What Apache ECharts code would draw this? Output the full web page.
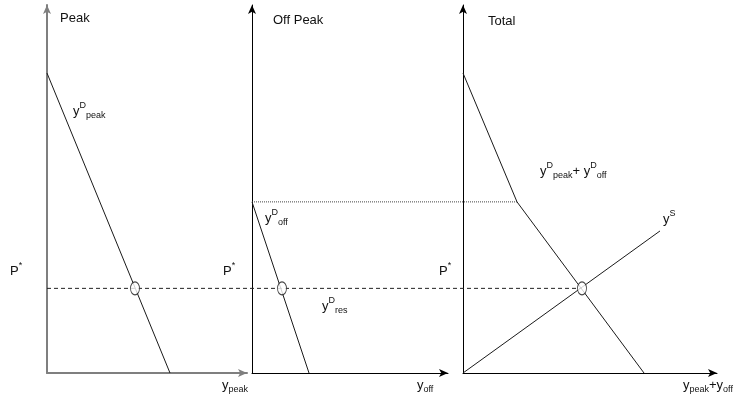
<!DOCTYPE html>
<html>
<head>
<meta charset="utf-8">
<script src="https://cdn.jsdelivr.net/npm/echarts@6/dist/echarts.min.js"></script>
<style>
html,body{margin:0;padding:0;background:#fff;}
#chart{width:734px;height:399px;}
</style>
</head>
<body>
<div id="chart"></div>
<script>
// values (quantity units / price units)
const peakDemand = [[0, 81.5], [61.5, 0]];
const offDemand = [[0, 46.5], [28.5, 0]];
const totalDemand = [[0, 81.5], [27, 46.5], [90.5, 0]];
const supply = [[0, 0], [98.5, 38.6]];
const pStar = 23;
const pKink = 46.5;
const eqPeak = [44, pStar];
const eqOff = [15, pStar];
const eqTotal = [59.5, pStar];
const xMax = [100, 98, 127];
const yMax = 100;
// guide lines run across all panels, measured from the first price axis
const dashRun = [0, 267.5];
const dotRun = [102.5, 235];
const spanMax = 335;

const font = 'Liberation Sans, Arial, sans-serif';
const grids = [
    {left: 47, top: 5, width: 200, height: 368},
    {left: 252, top: 5, width: 196, height: 368},
    {left: 463, top: 5, width: 254, height: 368},
    {left: 47, top: 5, width: 670, height: 368}
];

function axisLine(idx){
    let grey = idx === 0;
    return {
        show: true,
        symbol: ['none', 'arrow'],
        symbolSize: [6, 9],
        lineStyle: {color: grey ? '#7f7f7f' : '#000', width: grey ? 2 : 1}
    };
}

let xAxis = [], yAxis = [];
for (let i = 0; i < 3; i++) {
    xAxis.push({type: 'value', gridIndex: i, min: 0, max: xMax[i], axisLine: axisLine(i),
        axisTick: {show: false}, axisLabel: {show: false}, splitLine: {show: false}});
    yAxis.push({type: 'value', gridIndex: i, min: 0, max: yMax, axisLine: axisLine(i),
        axisTick: {show: false}, axisLabel: {show: false}, splitLine: {show: false}});
}
// hidden axes for the guide lines
xAxis.push({type: 'value', gridIndex: 3, min: 0, max: spanMax, show: false});
yAxis.push({type: 'value', gridIndex: 3, min: 0, max: yMax, show: false});

function line(idx, data, style){
    return {type: 'line', xAxisIndex: idx, yAxisIndex: idx, data: data, symbol: 'none',
        silent: true, animation: false,
        lineStyle: Object.assign({color: '#1a1a1a', width: 1}, style || {})};
}
function ring(idx, pt){
    return {type: 'scatter', xAxisIndex: idx, yAxisIndex: idx, data: [pt], symbol: 'circle',
        symbolSize: [9, 13], z: 5, animation: false,
        itemStyle: {color: '#fff', borderColor: '#1a1a1a', borderWidth: 1}};
}
const dashed = {type: [4, 3], color: '#222'};
const dotted = {type: [1, 1], color: '#444', width: 1};

let series = [
    line(3, [[dashRun[0], pStar], [dashRun[1], pStar]], dashed),
    line(3, [[dotRun[0], pKink], [dotRun[1], pKink]], dotted),
    line(0, peakDemand),
    ring(0, eqPeak),
    line(1, offDemand),
    ring(1, eqOff),
    line(2, totalDemand),
    line(2, supply),
    ring(2, eqTotal)
];

const rich = {
    m: {fontSize: 13, fontFamily: font, color: '#111', lineHeight: 19, verticalAlign: 'middle'},
    sup: {fontSize: 9, fontFamily: font, color: '#111', lineHeight: 9, verticalAlign: 'top'},
    sub: {fontSize: 9, fontFamily: font, color: '#111', lineHeight: 9, verticalAlign: 'bottom'}
};
function txt(x, y, text){
    return {type: 'text', x: x, y: y, silent: true,
        style: {text: text, rich: rich, fontFamily: font, fontSize: 13, fill: '#111', verticalAlign: 'middle'}};
}

const labels = [
    txt(60, 18, '{m|Peak}'),
    txt(273, 20, '{m|Off Peak}'),
    txt(488, 21, '{m|Total}'),
    txt(10, 271, '{m|P}{sup|*}'),
    txt(223, 271, '{m|P}{sup|*}'),
    txt(439, 271, '{m|P}{sup|*}'),
    txt(73, 111, '{m|y}{sup|D}{sub|peak}'),
    txt(265, 218, '{m|y}{sup|D}{sub|off}'),
    txt(322, 306, '{m|y}{sup|D}{sub|res}'),
    txt(540, 171, '{m|y}{sup|D}{sub|peak}{m|+ y}{sup|D}{sub|off}'),
    txt(663, 219, '{m|y}{sup|S}'),
    txt(222, 385, '{m|y}{sub|peak}'),
    txt(417, 385, '{m|y}{sub|off}'),
    txt(683, 385, '{m|y}{sub|peak}{m|+y}{sub|off}')
];

const chart = echarts.init(document.getElementById('chart'));
chart.setOption({
    animation: false,
    grid: grids,
    xAxis: xAxis,
    yAxis: yAxis,
    series: series,
    graphic: labels
});
</script>
</body>
</html>
